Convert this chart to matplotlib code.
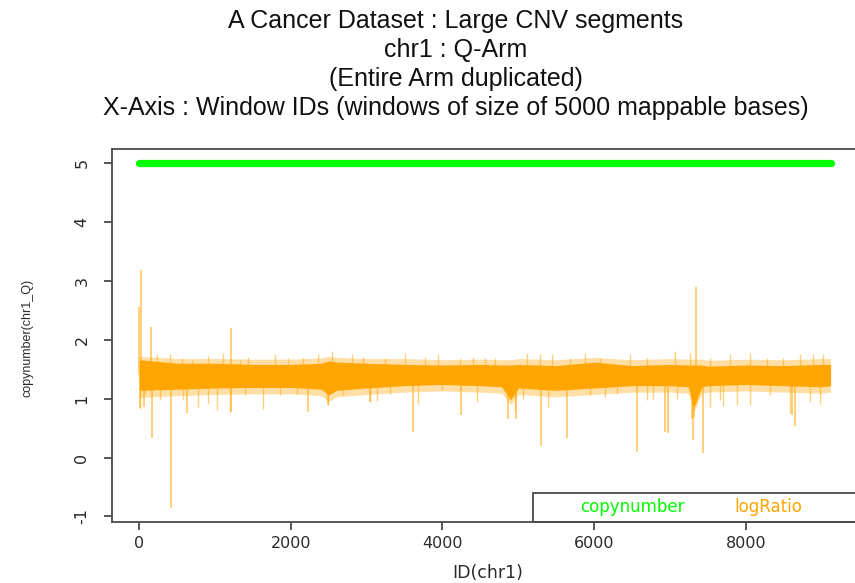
import matplotlib
matplotlib.use("Agg")
import matplotlib.pyplot as plt
from matplotlib.patches import Rectangle

# copynumber: flat at 5 across the whole arm
copy_x = [0, 9120]
copy_y = [5, 5]

# logRatio: dense band (window id, lower/upper edges)
env_x = [0, 500, 1000, 1500, 2000, 2400, 2500, 2600, 3000, 3500, 4000, 4500,
         4780, 4900, 5000, 5500, 6000, 6500, 7000, 7240, 7320, 7420, 7500,
         8000, 8500, 9000, 9120]
core_hi = [1.66, 1.60, 1.60, 1.58, 1.58, 1.60, 1.64, 1.62, 1.60, 1.58, 1.57,
           1.58, 1.57, 1.57, 1.58, 1.56, 1.62, 1.56, 1.58, 1.57, 1.57, 1.57,
           1.55, 1.57, 1.56, 1.58, 1.58]
core_lo = [1.14, 1.16, 1.18, 1.19, 1.19, 1.16, 1.06, 1.14, 1.18, 1.22, 1.24,
           1.22, 1.20, 0.98, 1.18, 1.14, 1.18, 1.22, 1.22, 1.20, 0.85, 1.20,
           1.22, 1.24, 1.22, 1.20, 1.22]
fringe_hi = [1.72, 1.68, 1.68, 1.67, 1.67, 1.69, 1.72, 1.70, 1.68, 1.68, 1.66,
             1.67, 1.66, 1.66, 1.68, 1.66, 1.70, 1.66, 1.68, 1.67, 1.67, 1.67,
             1.65, 1.67, 1.66, 1.68, 1.68]
fringe_lo = [1.02, 1.05, 1.07, 1.08, 1.08, 1.05, 0.95, 1.03, 1.07, 1.11, 1.13,
             1.11, 1.09, 0.90, 1.07, 1.03, 1.07, 1.11, 1.11, 1.09, 0.78, 1.09,
             1.11, 1.13, 1.11, 1.09, 1.11]

# big excursions away from the band
spike_x = [0, 5, 24, 62, 150, 168, 418, 630, 1210, 1215, 2230, 2490, 3045,
           3610, 4245, 4865, 4970, 5300, 5640, 6562, 6940, 6980, 7290, 7305,
           7315, 7345, 7440, 8610, 8650]
spike_y = [2.56, 0.84, 3.18, 0.85, 2.22, 0.33, -0.86, 0.75, 2.20, 0.77, 0.77,
           0.89, 0.94, 0.43, 0.73, 0.65, 0.66, 0.20, 0.33, 0.09, 0.43, 0.41,
           0.65, 0.29, 0.68, 2.89, 0.07, 0.72, 0.53]

# small excursions poking out of the top of the band
edge_up_x = [229, 405, 559, 691, 911, 1108, 1328, 1438, 1790, 1966, 2164,
             2361, 2538, 2802, 2955, 3241, 3505, 3769, 3945, 4231, 4406, 4561,
             4693, 5111, 5286, 5440, 5682, 5880, 6078, 6474, 6694, 7067, 7265,
             7529, 7793, 8057, 8277, 8496, 8716, 8892, 9024]
edge_up_y = [1.75, 1.75, 1.69, 1.65, 1.73, 1.77, 1.65, 1.71, 1.75, 1.69, 1.69,
             1.76, 1.80, 1.75, 1.71, 1.69, 1.77, 1.71, 1.75, 1.69, 1.71, 1.69,
             1.69, 1.77, 1.75, 1.75, 1.69, 1.77, 1.69, 1.75, 1.69, 1.80, 1.77,
             1.69, 1.75, 1.77, 1.69, 1.69, 1.75, 1.75, 1.75]

# ... and out of the bottom
edge_dn_x = [9, 75, 273, 580, 778, 911, 1029, 1197, 1394, 1636, 1856, 2076,
             2494, 2692, 3044, 3130, 3308, 3681, 3989, 4451, 4956, 5066, 5396,
             5946, 6144, 6298, 6694, 6780, 7090, 7530, 7661, 7700, 7881, 8057,
             8321, 8585, 8848, 8980]
edge_dn_y = [0.82, 1.08, 0.97, 0.97, 0.86, 0.91, 0.80, 0.77, 1.06, 0.82, 1.06,
             1.08, 0.89, 1.06, 0.94, 0.96, 1.08, 0.91, 1.14, 0.94, 0.77, 1.00,
             0.86, 1.06, 1.02, 1.08, 0.97, 0.99, 1.00, 0.86, 0.97, 0.88, 0.89,
             0.89, 1.06, 0.75, 0.94, 0.91]

x_ticks = [0, 2000, 4000, 6000, 8000]
y_ticks = [-1, 0, 1, 2, 3, 4, 5]

title_lines = [
    "A Cancer Dataset : Large CNV segments",
    "chr1 : Q-Arm",
    "(Entire Arm duplicated)",
    "X-Axis : Window IDs (windows of size of 5000 mappable bases)",
]

W, H = 855, 583
ORANGE = "#FFA500"
GREEN = "#00FF00"
AXC = "#4a4a4a"


def fx(px):
    return px / W


def fy(py):
    return 1 - py / H


def main():
    fig = plt.figure(figsize=(W / 100, H / 100), dpi=100)
    ax = fig.add_axes([fx(111.7), fy(521.7), fx(860) - fx(111.7),
                       fy(149) - fy(521.7)])

    base = 1.4
    ax.fill_between(env_x, fringe_lo, fringe_hi, color=ORANGE, alpha=0.35,
                    lw=0)
    ax.vlines(edge_up_x, base, edge_up_y, color=ORANGE, alpha=0.5, lw=1.0)
    ax.vlines(edge_dn_x, base, edge_dn_y, color=ORANGE, alpha=0.5, lw=1.0)
    ax.vlines(spike_x, base, spike_y, color=ORANGE, alpha=0.6, lw=1.2)
    ax.fill_between(env_x, core_lo, core_hi, color=ORANGE, lw=0)
    ax.plot(copy_x, copy_y, color=GREEN, lw=5.2, solid_capstyle="round")

    ax.set_xlim(-364, 9508)
    ax.set_ylim(-1.09, 5.238)
    ax.set_xticks(x_ticks)
    ax.set_yticks(y_ticks)
    ax.set_xticklabels([str(t) for t in x_ticks])
    ax.set_yticklabels([str(t) for t in y_ticks], rotation=90, va="center")
    for s in ax.spines.values():
        s.set_color(AXC)
        s.set_linewidth(1.3)
    ax.tick_params(direction="out", length=6, width=1.3, color=AXC,
                   labelsize=11.5, labelcolor="#2a2a2a")
    ax.tick_params(axis="x", pad=4)
    ax.tick_params(axis="y", pad=10)

    for i, line in enumerate(title_lines):
        fig.text(fx(456), fy(28 + 29 * i), line, ha="center", va="baseline",
                 fontsize=18, family="Liberation Sans", color="#111111")

    fig.text(fx(488), fy(573), "ID(chr1)", ha="center", va="center",
             fontsize=12.5, color="#2a2a2a")
    fig.text(fx(27), fy(338), "copynumber(chr1_Q)", ha="center",
             va="center", rotation=90, fontsize=9, family="Liberation Sans",
             color="#2a2a2a")

    # horizontal legend pinned to the bottom-right corner
    leg = Rectangle((fx(533), fy(521.7)), fx(870) - fx(533),
                    fy(493) - fy(521.7), transform=fig.transFigure,
                    fill=False, edgecolor=AXC, lw=1.3, zorder=5)
    fig.patches.append(leg)
    fig.text(fx(632), fy(507), "copynumber", ha="center", va="center",
             fontsize=12, color=GREEN)
    fig.text(fx(768), fy(507), "logRatio", ha="center", va="center",
             fontsize=12, color=ORANGE)

    fig.savefig("out.png", dpi=100)
    plt.close(fig)


if __name__ == "__main__":
    main()
